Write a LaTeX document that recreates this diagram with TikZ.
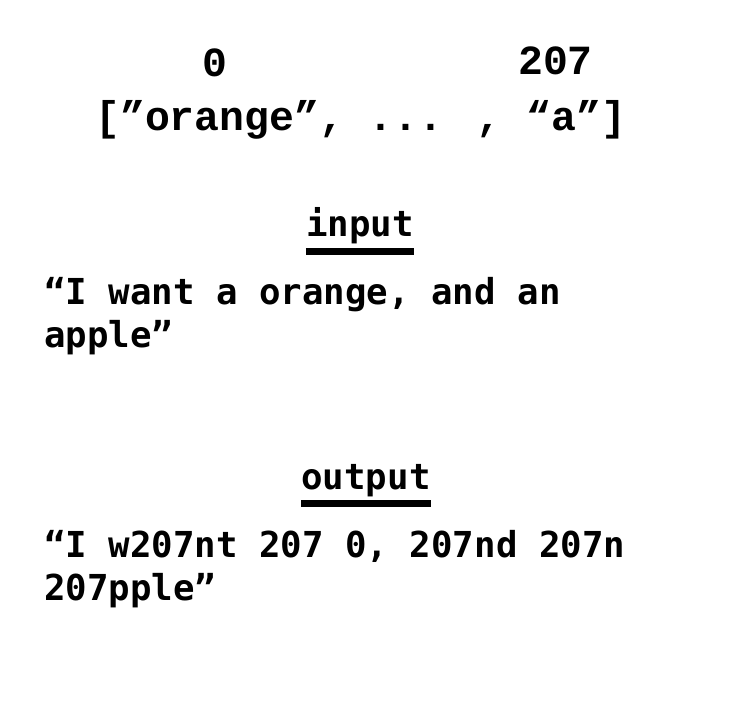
\documentclass[tikz,border=0pt]{standalone}
\usepackage{fontspec}
\usepackage{tikz}
\usetikzlibrary{positioning, calc}
\newfontfamily\arrfont{Liberation Mono}
\newfontfamily\codefont{DejaVu Sans Mono}

\begin{document}
\begin{tikzpicture}[
    x=0.75pt, y=-0.75pt,
    arrtext/.style={inner sep=0pt, font=\arrfont\bfseries\fontsize{31.1}{36}\selectfont},
    codetext/.style={inner sep=0pt, anchor=base west, font=\codefont\bfseries\fontsize{26.8}{32}\selectfont},
    headtext/.style={inner sep=0pt, anchor=base, font=\codefont\bfseries\fontsize{26.8}{32}\selectfont},
    ulbar/.style={line width=5.25pt},
]
    \useasboundingbox (0,0) rectangle (735,727);

    % vocabulary with indices
    \node[arrtext, anchor=base west] (vocab) at (95,131) {[”orange”, ... , “a”]};
    \node[arrtext, anchor=base] (idxfirst) at (215,77) {0};
    \node[arrtext, anchor=base] (idxlast) at (555.5,75) {207};

    % input sentence
    \node[headtext] (inhead) at (360,237) {input};
    \draw[ulbar] ($(inhead.base west)+(0,14.5)$) -- ($(inhead.base east)+(0,14.5)$);
    \node[codetext] (inlineA) at (44,304) {“I want a orange, and an};
    \node[codetext] (inlineB) at ($(inlineA.base west)+(0,43)$) {apple”};

    % output sentence
    \node[headtext] (outhead) at (366,489) {output};
    \draw[ulbar] ($(outhead.base west)+(0,14.5)$) -- ($(outhead.base east)+(0,14.5)$);
    \node[codetext] (outlineA) at (44,557) {“I w207nt 207 0, 207nd 207n};
    \node[codetext] (outlineB) at ($(outlineA.base west)+(0,43)$) {207pple”};
\end{tikzpicture}
\end{document}
